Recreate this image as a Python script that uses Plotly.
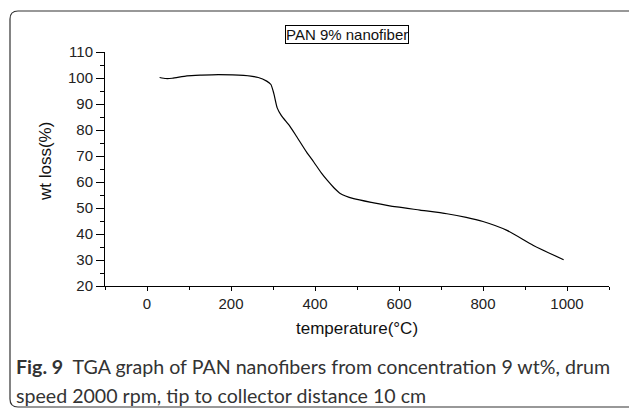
import plotly.graph_objects as go

temperature = [30, 45, 60, 95, 130, 170, 230, 265, 285, 295, 302, 310, 320, 340, 357, 380, 397,
               415, 430, 445, 460, 492, 540, 595, 650, 714, 760, 800, 857, 920, 992]
wt_loss = [100.2, 99.8, 99.9, 100.8, 101.1, 101.3, 101.0, 100.2, 98.8, 97.5, 94.0, 88.5, 85.5,
           81.5, 77.3, 71.5, 67.7, 63.5, 60.5, 57.8, 55.6, 53.6, 52.0, 50.4, 49.2, 47.8, 46.4,
           44.8, 41.4, 35.6, 30.1]

x_ticks = [0, 200, 400, 600, 800, 1000]
y_ticks = [20, 30, 40, 50, 60, 70, 80, 90, 100, 110]

W, H = 629, 410
L, R, T, B = 105, 20, 52, 124
pw, ph = W - L - R, H - T - B


def px(x):
    return (x - L) / pw


def py(y):
    return 1 - (y - T) / ph


fig = go.Figure()
fig.add_trace(go.Scatter(x=temperature, y=wt_loss, mode="lines",
                         line=dict(color="black", width=1.2, shape="spline", smoothing=0.6),
                         showlegend=False, hoverinfo="skip"))

axis_font = dict(family="Liberation Sans, Arial", size=15, color="#222")
fig.update_xaxes(range=[-100, 1100], tickvals=x_ticks, ticks="outside", ticklen=4,
                 tickcolor="black", showline=True, linecolor="black", linewidth=1,
                 showgrid=False, zeroline=False, tickfont=axis_font,
                 minor=dict(ticks="outside", ticklen=3, dtick=100, tick0=0,
                            tickcolor="black", showgrid=False))
fig.update_yaxes(range=[20, 110], tickvals=y_ticks, ticks="outside", ticklen=8,
                 tickcolor="black", showline=True, linecolor="black", linewidth=1,
                 showgrid=False, zeroline=False, tickfont=axis_font,
                 minor=dict(ticks="outside", ticklen=4, dtick=5, tick0=0,
                            tickcolor="black", showgrid=False))

r = 8
x0, x1 = px(10), px(645)
y0, y1 = py(11), py(407)
rx, ry = r / pw, r / ph
path = (f"M {x0+rx},{y0} L {x1-rx},{y0} Q {x1},{y0} {x1},{y0-ry} L {x1},{y1+ry} "
        f"Q {x1},{y1} {x1-rx},{y1} L {x0+rx},{y1} Q {x0},{y1} {x0},{y1+ry} "
        f"L {x0},{y0-ry} Q {x0},{y0} {x0+rx},{y0} Z")
fig.add_shape(type="path", path=path, xref="paper", yref="paper",
              line=dict(color="#333", width=1.2), fillcolor="rgba(0,0,0,0)", layer="below")

title_font = dict(family="Liberation Sans, Arial", size=17, color="#111")
fig.add_annotation(text="PAN 9% nanofiber", x=px(347), y=py(34.5), xref="paper", yref="paper",
                   xanchor="center", yanchor="middle",
                   showarrow=False, font=dict(family="Liberation Sans, Arial", size=15, color="#111"),
                   bordercolor="black", borderwidth=1, borderpad=0, bgcolor="white")
fig.add_annotation(text="wt loss(%)", x=px(45), y=py(162), xref="paper", yref="paper",
                   xanchor="center", yanchor="middle",
                   showarrow=False, textangle=-90, font=title_font)
fig.add_annotation(text="temperature(°C)", x=px(357), y=py(328), xref="paper", yref="paper",
                   xanchor="center", yanchor="middle",
                   showarrow=False, font=title_font)

cap_font = dict(family="Lato", size=19.6, color="#333")
fig.add_annotation(text="<b>Fig. 9</b>  TGA graph of PAN nanofibers from concentration 9 wt%, drum",
                   x=px(14), y=py(366), xref="paper", yref="paper",
                   xanchor="left", yanchor="middle",
                   showarrow=False, font=cap_font)
fig.add_annotation(text="speed 2000 rpm, tip to collector distance 10 cm",
                   x=px(14), y=py(395), xref="paper", yref="paper",
                   xanchor="left", yanchor="middle",
                   showarrow=False, font=cap_font)

fig.update_layout(width=W, height=H, margin=dict(l=L, r=R, t=T, b=B),
                  paper_bgcolor="white", plot_bgcolor="white")

fig.write_html("out.html", config={"displayModeBar": False},
               post_script="document.body.style.margin='0px';")
